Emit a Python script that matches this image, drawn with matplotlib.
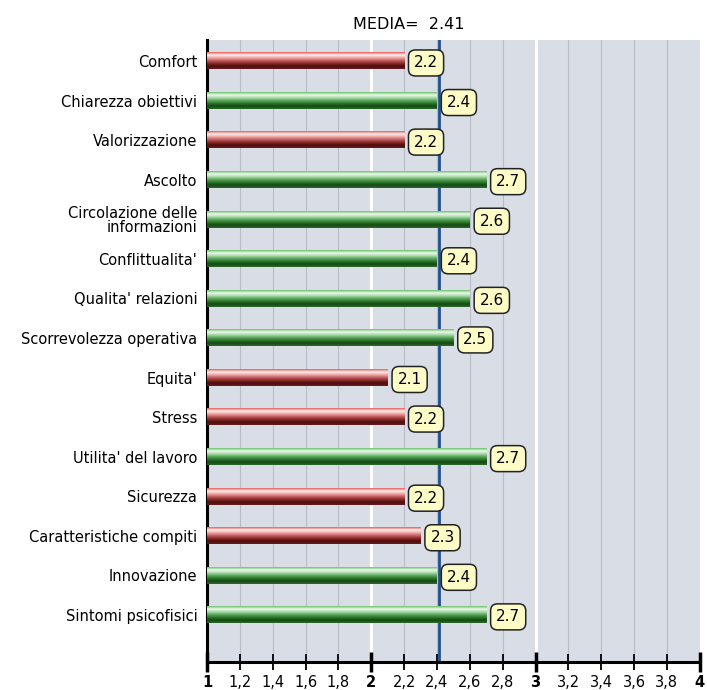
import numpy as np
import matplotlib
matplotlib.use("Agg")
import matplotlib.pyplot as plt
from matplotlib.colors import LinearSegmentedColormap
from matplotlib.ticker import FixedLocator

# Data
categories = [
    "Comfort",
    "Chiarezza obiettivi",
    "Valorizzazione",
    "Ascolto",
    "Circolazione delle\ninformazioni",
    "Conflittualita'",
    "Qualita' relazioni",
    "Scorrevolezza operativa",
    "Equita'",
    "Stress",
    "Utilita' del lavoro",
    "Sicurezza",
    "Caratteristiche compiti",
    "Innovazione",
    "Sintomi psicofisici",
]
values = [2.2, 2.4, 2.2, 2.7, 2.6, 2.4, 2.6, 2.5, 2.1, 2.2, 2.7, 2.2, 2.3, 2.4, 2.7]
media = 2.41

x_ticks = [1.0, 1.2, 1.4, 1.6, 1.8, 2.0, 2.2, 2.4, 2.6, 2.8, 3.0, 3.2, 3.4, 3.6, 3.8, 4.0]
x_tick_labels = ["1", "1,2", "1,4", "1,6", "1,8", "2", "2,2", "2,4", "2,6", "2,8",
                 "3", "3,2", "3,4", "3,6", "3,8", "4"]

# stripe colour maps (top -> bottom)
green_cmap = LinearSegmentedColormap.from_list(
    "green_bar", ["#6cc26c", "#eef9ee", "#a8dca8", "#5ca65c", "#2c782c", "#154815", "#2a6a2a"])
red_cmap = LinearSegmentedColormap.from_list(
    "red_bar", ["#e35e5e", "#fff0ec", "#f0a6a6", "#c25e5e", "#8a2a2a", "#4c0d0d", "#6a1a1a"])

fig = plt.figure(figsize=(7.07, 6.90), dpi=100)
ax = fig.add_axes([0.2928, 0.0406, 0.697, 0.9014])
ax.set_facecolor("#d9dde5")

n = len(categories)
ypos = np.arange(n)
ylim = (15.19, -0.53)

# vertical grid
for xt in x_ticks[1:-1]:
    if xt in (2.0, 3.0):
        ax.axvline(xt, color="white", lw=2.2, zorder=1)
    else:
        ax.axvline(xt, color="#b7bcc6", lw=0.8, zorder=1)

# mean line
ax.axvline(media, color="#1f4f8f", lw=2.0, zorder=2)

# bars as stripes with vertical gradient
grad = np.linspace(0, 1, 64).reshape(-1, 1)
bar_h = 0.42
for y, v in zip(ypos, values):
    # the chart colours by the rounded score against the rounded mean
    cmap = green_cmap if round(v, 1) >= round(media, 1) else red_cmap
    ax.imshow(grad, cmap=cmap, aspect="auto", interpolation="bilinear",
              extent=(1, v, y + bar_h / 2, y - bar_h / 2), origin="upper", zorder=3)
    ax.text(v + 0.06, y + 0.05, f"{v:.1f}", ha="left", va="center", fontsize=11,
            color="black", zorder=5,
            bbox=dict(boxstyle="round,pad=0.36,rounding_size=0.45",
                      fc="#fdfcc6", ec="#222222", lw=1.1))

ax.set_xlim(1, 4)
ax.set_ylim(*ylim)

# y labels
ax.set_yticks(ypos)
ax.set_yticklabels(categories, fontsize=10.5, linespacing=0.92)
ax.tick_params(axis="y", length=0, pad=7)
for lab in ax.get_yticklabels():
    lab.set_horizontalalignment("right")

# x axis
ax.xaxis.set_major_locator(FixedLocator(x_ticks))
ax.set_xticklabels(x_tick_labels, fontsize=10.5)
for lab, xt in zip(ax.get_xticklabels(), x_ticks):
    if xt in (1.0, 2.0, 3.0, 4.0):
        lab.set_fontweight("bold")
ax.tick_params(axis="x", direction="inout", length=11, width=1.3, pad=4, color="black")
for tl, xt in zip(ax.xaxis.get_major_ticks(), x_ticks):
    if xt in (1.0, 2.0, 3.0, 4.0):
        tl.tick1line.set_markeredgewidth(2.5)
        tl.tick1line.set_markersize(14)

for side in ("top", "right"):
    ax.spines[side].set_visible(False)
ax.spines["left"].set_linewidth(2.2)
ax.spines["bottom"].set_linewidth(2.2)

fig.text(0.578, 0.965, f"MEDIA=  {media:.2f}", ha="center", va="center", fontsize=11.5)

fig.savefig("out.png", dpi=100, facecolor="white")
